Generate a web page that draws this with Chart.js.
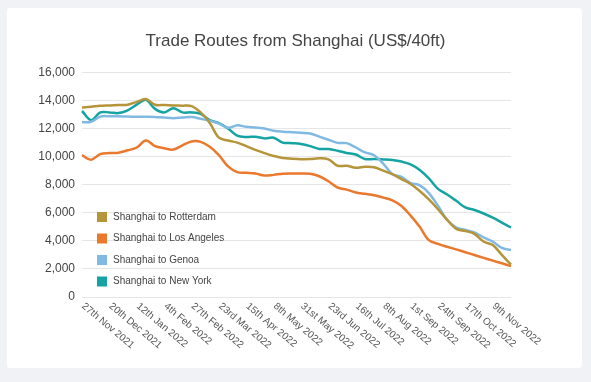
<!DOCTYPE html>
<html>
<head>
<meta charset="utf-8">
<script src="https://cdn.jsdelivr.net/npm/chart.js@4.4.1/dist/chart.umd.min.js"></script>
<style>
    html, body { margin: 0; padding: 0; background: #f1f2f6; }
    .cartao { position: absolute; left: 7px; top: 8px; width: 575px; height: 360px; background: #fff; border-radius: 3px; }
    .area { position: absolute; left: 0; top: 0; width: 591px; height: 382px; }
</style>
</head>
<body>
<div class="cartao"></div>
<div class="area"><canvas id="grafico"></canvas></div>
<script>
const FONTE = 'Arial, "Liberation Sans", sans-serif';

// rótulos do eixo X (um a cada 3 pontos)
const rotulos = ['27th Nov 2021', '20th Dec 2021', '12th Jan 2022', '4th Feb 2022', '27th Feb 2022',
    '23rd Mar 2022', '15th Apr 2022', '8th May 2022', '31st May 2022', '23rd Jun 2022', '16th Jul 2022',
    '8th Aug 2022', '1st Sep 2022', '24th Sep 2022', '17th Oct 2022', '9th Nov 2022'];
const PASSO = 3;

const rotterdam = [13500, 13550, 13620, 13650, 13680, 13700, 13900, 14100, 13700, 13680, 13650, 13630,
    13600, 13150, 12400, 11350, 11150, 11000, 10750, 10480, 10250, 10050, 9900, 9850,
    9820, 9830, 9880, 9800, 9350, 9350, 9200, 9280, 9250, 9000, 8750, 8400,
    8050, 7550, 6950, 6250, 5500, 4850, 4700, 4500, 3950, 3700, 3000, 2300];
const losAngeles = [10100, 9780, 10180, 10250, 10280, 10450, 10650, 11150, 10750, 10600, 10500, 10800,
    11080, 11050, 10700, 10100, 9300, 8900, 8850, 8800, 8650, 8700, 8780, 8800,
    8800, 8780, 8600, 8250, 7800, 7650, 7450, 7350, 7250, 7080, 6880, 6480,
    5800, 5000, 4050, 3780, 3580, 3390, 3190, 2990, 2790, 2590, 2400, 2200];
const genoa = [12450, 12480, 12850, 12880, 12870, 12850, 12840, 12840, 12830, 12780, 12740, 12780,
    12820, 12700, 12550, 12350, 12050, 12230, 12120, 12080, 12000, 11850, 11780, 11740,
    11700, 11650, 11420, 11200, 10980, 10960, 10650, 10300, 10100, 9500, 8750, 8550,
    8120, 7950, 7400, 6500, 5500, 4950, 4780, 4600, 4250, 3950, 3500, 3350];
const newYork = [13250, 12600, 13150, 13150, 13100, 13300, 13700, 14050, 13400, 13150, 13450, 13150,
    13150, 13050, 12600, 12380, 12000, 11500, 11400, 11420, 11300, 11350, 11000, 10960,
    10900, 10750, 10550, 10540, 10420, 10260, 10150, 9830, 9830, 9800, 9760, 9650,
    9450, 9050, 8450, 7700, 7300, 6850, 6380, 6200, 5950, 5650, 5300, 4950];

const categorias = rotterdam.map((_, i) => (i % PASSO === 0 && rotulos[i / PASSO]) ? rotulos[i / PASSO] : '');

function serie(label, data, cor) {
    return {
        label: label,
        data: data,
        borderColor: cor,
        backgroundColor: cor,
        borderWidth: 2.5,
        pointRadius: 0,
        tension: 0.35,
        fill: false
    };
}

// rótulos inclinados que começam no tick
const rotuloX = {
    id: 'rotuloX',
    afterDraw(chart) {
        const { ctx, chartArea } = chart;
        const x = chart.scales.x;
        ctx.save();
        ctx.font = '10px ' + FONTE;
        ctx.fillStyle = '#555';
        ctx.textAlign = 'left';
        ctx.textBaseline = 'middle';
        chart.data.labels.forEach((lab, i) => {
            if (!lab) return;
            ctx.save();
            ctx.translate(x.getPixelForValue(i) + 1, chartArea.bottom + 8);
            ctx.rotate(40 * Math.PI / 180);
            ctx.fillText(lab, 0, 0);
            ctx.restore();
        });
        ctx.restore();
    }
};

// legenda dentro da área do gráfico
const legenda = {
    id: 'legenda',
    afterDraw(chart) {
        const { ctx, chartArea } = chart;
        ctx.save();
        ctx.font = '10px ' + FONTE;
        ctx.textBaseline = 'middle';
        chart.data.datasets.forEach((ds, i) => {
            const cy = chartArea.bottom - 80 + i * 21.5;
            const bx = chartArea.left + 15;
            ctx.fillStyle = ds.borderColor;
            ctx.fillRect(bx, cy - 5, 10, 10);
            ctx.fillStyle = '#444';
            ctx.fillText(ds.label, bx + 16, cy);
        });
        ctx.restore();
    }
};

const ctx = document.getElementById('grafico');
new Chart(ctx, {
    type: 'line',
    data: {
        labels: categorias,
        datasets: [
            serie('Shanghai to Rotterdam', rotterdam, '#b5943a'),
            serie('Shanghai to Los Angeles', losAngeles, '#ea782d'),
            serie('Shanghai to Genoa', genoa, '#80bae2'),
            serie('Shanghai to New York', newYork, '#16a3a3')
        ]
    },
    options: {
        responsive: true,
        maintainAspectRatio: false,
        animation: false,
        layout: { padding: { left: 0, right: 0, top: 0, bottom: 77 } },
        plugins: {
            legend: { display: false },
            tooltip: { enabled: false },
            title: {
                display: true,
                text: 'Trade Routes from Shanghai (US$/40ft)',
                color: '#444',
                font: { family: FONTE, size: 17, weight: 'normal' },
                padding: { top: 31, bottom: 21 }
            }
        },
        scales: {
            x: {
                grid: { display: false },
                border: { display: false },
                ticks: { display: false }
            },
            y: {
                min: 0,
                max: 16000,
                ticks: { stepSize: 2000, padding: 7, color: '#444', font: { family: FONTE, size: 12 } },
                grid: { color: '#e6e6e6', drawTicks: false },
                border: { display: false },
                afterFit: (s) => { s.width = 82; }
            },
            yDireita: {
                type: 'linear',
                position: 'right',
                grid: { display: false },
                border: { display: false },
                ticks: { display: false },
                afterFit: (s) => { s.width = 80; }
            }
        }
    },
    plugins: [rotuloX, legenda]
});
</script>
</body>
</html>
